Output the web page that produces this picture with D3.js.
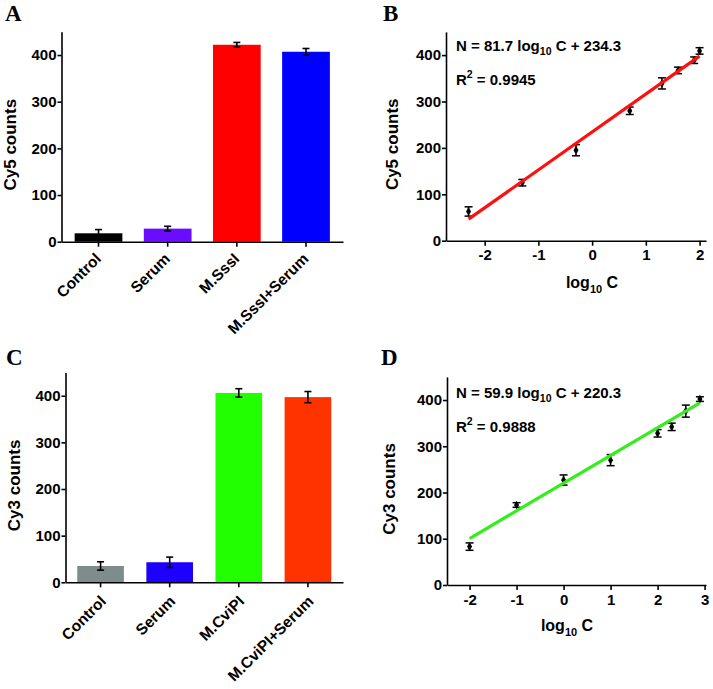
<!DOCTYPE html>
<html><head><meta charset="utf-8">
<script src="https://cdn.jsdelivr.net/npm/d3@7"></script>
<style>
body{margin:0;background:#fff;}
svg{display:block;}
text{font-family:"Liberation Sans",Arial,sans-serif;font-weight:bold;fill:#000;}
</style></head>
<body>
<svg id="c" width="713" height="689"></svg>
<script>
// ---- data ----
const catsA = ["Control", "Serum", "M.SssI", "M.SssI+Serum"];
const valsA = [18, 28, 422, 407];
const errA  = [8, 5, 5, 7];
const colorsA = ["#000000", "#6a0dff", "#ff0000", "#0000ff"];

const catsC = ["Control", "Serum", "M.CviPI", "M.CviPI+Serum"];
const valsC = [35, 43, 406, 397];
const errC  = [9, 11, 9, 12];
const colorsC = ["#7f8c8c", "#1e00ff", "#22ff00", "#ff3300"];

const xB = [-2.3, -1.3, -0.3, 0.7, 1.3, 1.6, 1.9, 2.0];
const yB = [63, 125, 195, 280, 339, 367, 389, 409];
const eB = [10, 7, 12, 8, 12, 7, 7, 7];
const fitB = [81.7, 234.3];   // slope, intercept
const r2B = "0.9945";

const xD = [-2, -1, 0, 1, 2, 2.3, 2.6, 2.9];
const yD = [83, 173, 227, 270, 328, 342, 376, 402];
const eD = [8, 5, 11, 12, 8, 8, 13, 5];
const fitD = [59.9, 220.3];
const r2D = "0.9888";

const yTicks = [0, 100, 200, 300, 400];
const xTicksB = [-2, -1, 0, 1, 2];
const xTicksD = [-2, -1, 0, 1, 2, 3];

const svg = d3.select("#c");

function styleAxis(g){
  g.select(".domain").attr("stroke","#000").attr("stroke-width",1.6);
  g.selectAll(".tick line").attr("stroke","#000").attr("stroke-width",1.6);
  g.selectAll(".tick text").style("font-size","15px").attr("fill","#000");
}

function panelLetter(t, x, y){
  svg.append("text").attr("x",x).attr("y",y).text(t)
    .style("font-family","'Liberation Serif','Times New Roman',serif")
    .style("font-size","23px").style("font-weight","bold");
}

function yLabel(t, x, y){
  svg.append("text").attr("transform",`translate(${x},${y}) rotate(-90)`)
    .attr("text-anchor","middle").style("font-size","17px").text(t);
}

function barPanel(cats, vals, errs, colors, x0, x1, y0, y1, pin, pout, label, lu, lv){
  const x = d3.scaleBand().domain(cats).range([x0, x1]).paddingInner(pin).paddingOuter(pout);
  const y = d3.scaleLinear().domain([0, 450]).range([y0, y1]);
  const g = svg.append("g");
  g.selectAll("rect.bar").data(cats).join("rect")
    .attr("x", d => x(d)).attr("width", x.bandwidth())
    .attr("y", (d,i) => y(vals[i])).attr("height", (d,i) => y(0) - y(vals[i]))
    .attr("fill", (d,i) => colors[i]);
  const eg = g.selectAll("g.err").data(cats).join("g");
  eg.append("line").attr("x1", d => x(d)+x.bandwidth()/2).attr("x2", d => x(d)+x.bandwidth()/2)
    .attr("y1", (d,i) => y(vals[i]+errs[i])).attr("y2", (d,i) => y(vals[i]-errs[i]))
    .attr("stroke","#000").attr("stroke-width",1.6);
  [1,-1].forEach(s => {
    eg.append("line").attr("x1", d => x(d)+x.bandwidth()/2-3.5).attr("x2", d => x(d)+x.bandwidth()/2+3.5)
      .attr("y1", (d,i) => y(vals[i]+s*errs[i])).attr("y2", (d,i) => y(vals[i]+s*errs[i]))
      .attr("stroke","#000").attr("stroke-width",1.6);
  });
  const ya = g.append("g").attr("transform",`translate(${x0},0)`)
    .call(d3.axisLeft(y).tickValues(yTicks).tickSize(4).tickPadding(1).tickSizeOuter(0));
  styleAxis(ya);
  const xa = g.append("g").attr("transform",`translate(0,${y0})`)
    .call(d3.axisBottom(x).tickSize(5).tickSizeOuter(0));
  styleAxis(xa);
  xa.selectAll(".tick text").style("font-size","15.5px")
    .attr("text-anchor","end").attr("transform","rotate(-45)")
    .attr("x", lu).attr("y", lv).attr("dy", 0);
  yLabel(label, x0 - 45.5, (y0 + y1) / 2 + 8);
}

function fitLabel(xpos, ypos, fit, r2){
  const t = svg.append("text").attr("x", xpos).attr("y", ypos).style("font-size","15px");
  t.append("tspan").text(`N = ${fit[0]} log`);
  t.append("tspan").attr("dy", 4).style("font-size","10.5px").text("10");
  t.append("tspan").attr("dy", -4).text(` C + ${fit[1]}`);
  const r = svg.append("text").attr("x", xpos).attr("y", ypos + 34.5).style("font-size","15px");
  r.append("tspan").text("R");
  r.append("tspan").attr("dy", -7).style("font-size","10.5px").text("2");
  r.append("tspan").attr("dy", 7).text(` = ${r2}`);
}

function xLabelLog(cx, y){
  const t = svg.append("text").attr("x", cx).attr("y", y).attr("text-anchor","middle").style("font-size","16px");
  t.append("tspan").text("log");
  t.append("tspan").attr("dy", 5).style("font-size","11px").text("10");
  t.append("tspan").attr("dy", -5).text(" C");
}

function scatterPanel(xs, ys, es, fit, r2, lineColor, xdom, xticks, x0, x1, y0, y1, label, yl, xlcx, xly){
  const x = d3.scaleLinear().domain(xdom).range([x0, x1]);
  const y = d3.scaleLinear().domain([0, 450]).range([y0, y1]);
  const g = svg.append("g");
  const ya = g.append("g").attr("transform",`translate(${x0},0)`)
    .call(d3.axisLeft(y).tickValues(yTicks).tickSize(4).tickPadding(1).tickSizeOuter(0));
  styleAxis(ya);
  const xa = g.append("g").attr("transform",`translate(0,${y0})`)
    .call(d3.axisBottom(x).tickValues(xticks).tickSize(5).tickPadding(4).tickSizeOuter(0)
      .tickFormat(d3.format("d")));
  styleAxis(xa);
  xa.selectAll(".tick text").text(d => d < 0 ? "-" + Math.abs(d) : d);
  // error bars + points
  xs.forEach((v, i) => {
    g.append("line").attr("x1", x(v)).attr("x2", x(v)).attr("y1", y(ys[i]+es[i])).attr("y2", y(ys[i]-es[i]))
      .attr("stroke","#000").attr("stroke-width",1.5);
    [1,-1].forEach(s => g.append("line").attr("x1", x(v)-4).attr("x2", x(v)+4)
      .attr("y1", y(ys[i]+s*es[i])).attr("y2", y(ys[i]+s*es[i])).attr("stroke","#000").attr("stroke-width",1.5));
    g.append("path").attr("d", d3.symbol(d3.symbolDiamond, 22)()).attr("transform",`translate(${x(v)},${y(ys[i])})`).attr("fill","#000");
  });
  const xe = d3.extent(xs);
  g.append("line").attr("x1", x(xe[0])).attr("x2", x(xe[1]))
    .attr("y1", y(fit[0]*xe[0]+fit[1])).attr("y2", y(fit[0]*xe[1]+fit[1]))
    .attr("stroke", lineColor).attr("stroke-width", 3.2);
  yLabel(label, yl, (y0 + y1) / 2 + 8);
  xLabelLog(xlcx, xly);
}

// Panel A
barPanel(catsA, valsA, errA, colorsA, 61.5, 343, 241.7, 31.7, 0.31, 0.19, "Cy5 counts", -10.3, 15.2);
panelLetter("A", 5, 21);
// Panel C
barPanel(catsC, valsC, errC, colorsC, 65.5, 343, 582.3, 372.4, 0.325, 0.17, "Cy3 counts", -9.5, 18.7);
panelLetter("C", 6, 365);
// Panel B
scatterPanel(xB, yB, eB, fitB, r2B, "#ff1010", [-2.72, 2.12], xTicksB, 446, 706, 240.7, 31.9, "Cy5 counts", 398, 592, 288);
fitLabel(456, 50.5, fitB, r2B);
panelLetter("B", 383, 21);
// Panel D
scatterPanel(xD, yD, eD, fitD, r2D, "#33ee1a", [-2.48, 3.03], xTicksD, 447, 706, 585, 376.9, "Cy3 counts", 395, 567, 631);
fitLabel(456, 397.5, fitD, r2D);
panelLetter("D", 381, 365);
</script>
</body></html>
